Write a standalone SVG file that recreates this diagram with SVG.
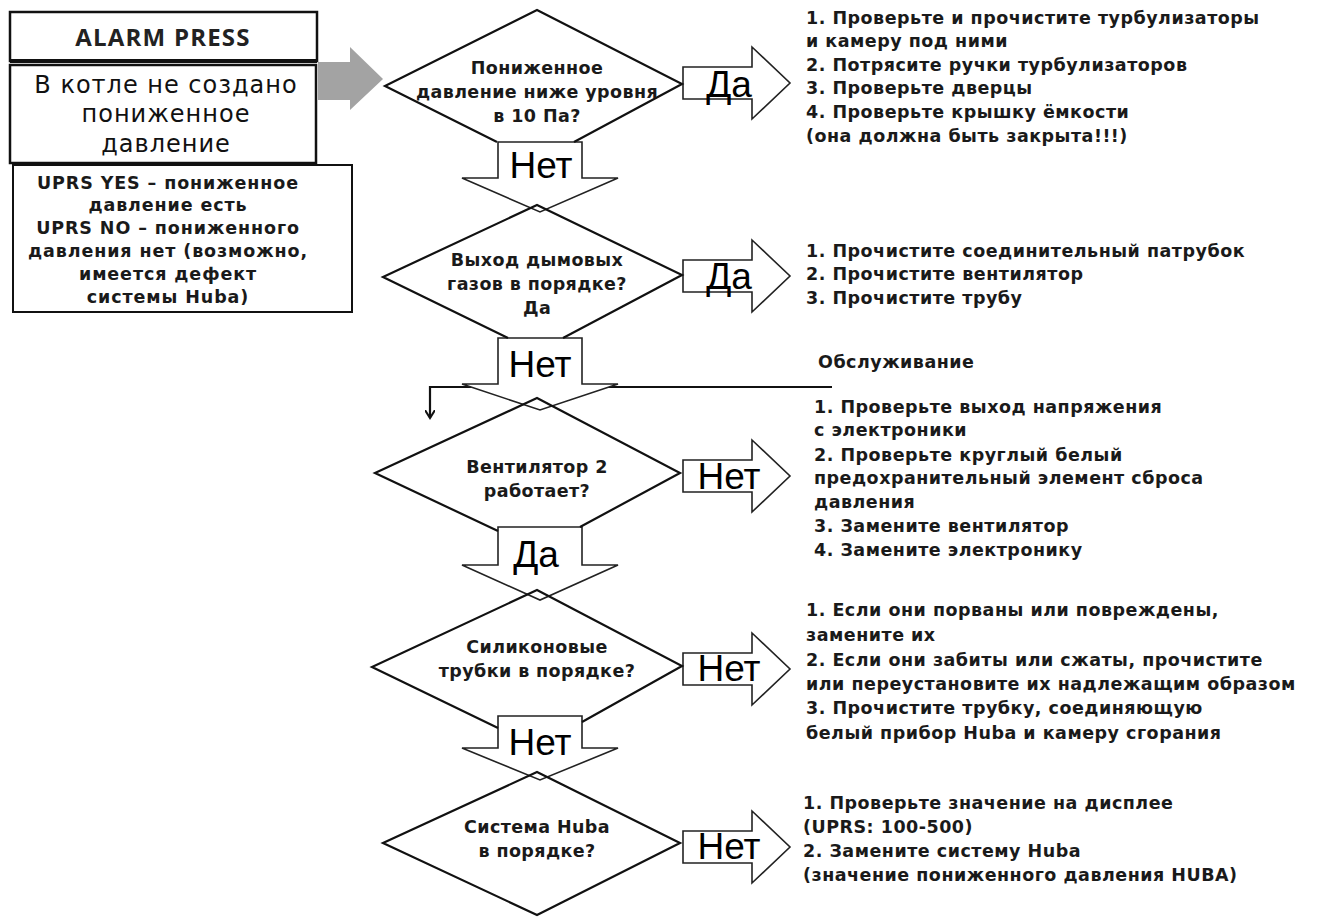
<svg xmlns="http://www.w3.org/2000/svg" width="1318" height="918" viewBox="0 0 1318 918">
<style>
.bg{fill:#fff}
.box{fill:#fff;stroke:#111;stroke-width:2.5}
.dia{fill:none;stroke:#111;stroke-width:2.2;stroke-linejoin:miter}
.blk{fill:#fff;stroke:#222;stroke-width:1.6}
.gray{fill:#a3a3a3}
.line{fill:none;stroke:#111;stroke-width:2.2}
.t{font-family:"DejaVu Sans",sans-serif;font-weight:bold;font-size:17.5px;letter-spacing:0.5px;fill:#1a1a1a}
.dt{font-family:"DejaVu Sans",sans-serif;font-weight:bold;font-size:17.5px;letter-spacing:0.4px;fill:#1a1a1a;text-anchor:middle}
.lt{font-family:"DejaVu Sans",sans-serif;font-weight:bold;font-size:17.5px;letter-spacing:0.9px;fill:#1a1a1a;text-anchor:middle}
.big{font-family:"DejaVu Sans",sans-serif;font-size:24px;letter-spacing:1px;fill:#111;text-anchor:middle}
.hd{font-family:"Open Sans",sans-serif;font-weight:bold;font-size:24px;fill:#222;text-anchor:middle;letter-spacing:1.2px}
.lab{font-family:"Liberation Sans",sans-serif;font-size:37px;fill:#000;text-anchor:middle}
</style>
<defs>
<marker id="ah" markerWidth="10" markerHeight="10" refX="8" refY="5" orient="auto" markerUnits="userSpaceOnUse" viewBox="0 0 10 10">
<path d="M0,0 L8,5 L0,10" fill="none" stroke="#111" stroke-width="2"/>
</marker>
</defs>
<rect class="bg" x="0" y="0" width="1318" height="918"/>

<g id="connectors">
<polygon class="gray" points="318,62 350,62 350,47 383,79 350,110 350,100 318,100"/>
<path class="blk" d="M683,67 H752 V47 L790,83 L752,119 V99 H683 Z"/>
<path class="blk" d="M683,260 H752 V240 L790,276 L752,312 V292 H683 Z"/>
<path class="blk" d="M683,460 H752 V440 L790,476 L752,512 V492 H683 Z"/>
<path class="blk" d="M683,653 H752 V633 L790,669 L752,705 V685 H683 Z"/>
<path class="blk" d="M683,831 H752 V811 L790,847 L752,883 V863 H683 Z"/>
<path class="line" d="M832,387 H430 V418" marker-end="url(#ah)"/>
<path class="blk" d="M498,142 H582 V178 H618 L540,212 L462,178 H498 Z"/>
<path class="blk" d="M498,338 H582 V384 H618 L540,410 L462,384 H498 Z"/>
<path class="blk" d="M498,527 H582 V565 H618 L540,600 L462,565 H498 Z"/>
<path class="blk" d="M498,716 H582 V748 H618 L540,780 L462,748 H498 Z"/>
<text class="lab" x="729" y="97">Да</text>
<text class="lab" x="729" y="289">Да</text>
<text class="lab" x="729" y="489">Нет</text>
<text class="lab" x="729" y="681">Нет</text>
<text class="lab" x="729" y="859">Нет</text>
<text class="lab" x="541" y="178">Нет</text>
<text class="lab" x="540" y="377">Нет</text>
<text class="lab" x="536" y="567">Да</text>
<text class="lab" x="540" y="755">Нет</text>
</g>

<g id="alarm">
<rect class="box" x="10" y="12" width="307" height="49"/>
<line x1="10" y1="61" x2="317" y2="61" stroke="#111" stroke-width="4"/>
<text class="hd" x="163" y="46">ALARM PRESS</text>
</g>
<g id="fault">
<rect class="box" x="10" y="65" width="306" height="98"/>
<text class="big" x="166" y="93">В котле не создано</text>
<text class="big" x="166" y="122">пониженное</text>
<text class="big" x="166" y="152">давление</text>
</g>
<g id="legend">
<rect class="box" x="13" y="165" width="339" height="147" style="stroke-width:2"/>
<text class="lt" x="168" y="189">UPRS YES – пониженное</text>
<text class="lt" x="168" y="211">давление есть</text>
<text class="lt" x="168" y="234">UPRS NO – пониженного</text>
<text class="lt" x="168" y="257">давления нет (возможно,</text>
<text class="lt" x="168" y="280">имеется дефект</text>
<text class="lt" x="168" y="303">системы Huba)</text>
</g>

<g id="q1">
<path class="dia" d="M497,142 L385,86 L537,10 L682,84 L574,142"/>
<text class="dt" x="537" y="74">Пониженное</text>
<text class="dt" x="537" y="98">давление ниже уровня</text>
<text class="dt" x="537" y="122">в 10 Па?</text>
</g>
<g id="q2">
<path class="dia" d="M508,338 L383,277 L537,205 L682,275 L563,338"/>
<text class="dt" x="537" y="266">Выход дымовых</text>
<text class="dt" x="537" y="290">газов в порядке?</text>
<text class="dt" x="537" y="314">Да</text>
</g>
<g id="q3">
<path class="dia" d="M498,531 L375,473 L537,398 L680,473 L580,527"/>
<text class="dt" x="537" y="473">Вентилятор 2</text>
<text class="dt" x="537" y="497">работает?</text>
</g>
<g id="q4">
<path class="dia" d="M498,728 L372,667 L537,590 L682,666 L582,722"/>
<text class="dt" x="537" y="653">Силиконовые</text>
<text class="dt" x="537" y="677">трубки в порядке?</text>
</g>
<g id="q5">
<path class="dia" d="M383,843 L537,772 L680,843 L537,915 Z"/>
<text class="dt" x="537" y="833">Система Huba</text>
<text class="dt" x="537" y="857">в порядке?</text>
</g>

<g id="a1">
<text class="t" x="806" y="24">1. Проверьте и прочистите турбулизаторы</text>
<text class="t" x="806" y="47">и камеру под ними</text>
<text class="t" x="806" y="71">2. Потрясите ручки турбулизаторов</text>
<text class="t" x="806" y="94">3. Проверьте дверцы</text>
<text class="t" x="806" y="118">4. Проверьте крышку ёмкости</text>
<text class="t" x="806" y="142">(она должна быть закрыта!!!)</text>
</g>
<g id="a2">
<text class="t" x="806" y="257">1. Прочистите соединительный патрубок</text>
<text class="t" x="806" y="280">2. Прочистите вентилятор</text>
<text class="t" x="806" y="304">3. Прочистите трубу</text>
</g>
<g id="service">
<text class="t" x="818" y="368">Обслуживание</text>
</g>
<g id="a3">
<text class="t" x="814" y="413">1. Проверьте выход напряжения</text>
<text class="t" x="814" y="436">с электроники</text>
<text class="t" x="814" y="461">2. Проверьте круглый белый</text>
<text class="t" x="814" y="484">предохранительный элемент сброса</text>
<text class="t" x="814" y="508">давления</text>
<text class="t" x="814" y="532">3. Замените вентилятор</text>
<text class="t" x="814" y="556">4. Замените электронику</text>
</g>
<g id="a4">
<text class="t" x="806" y="616">1. Если они порваны или повреждены,</text>
<text class="t" x="806" y="641">замените их</text>
<text class="t" x="806" y="666">2. Если они забиты или сжаты, прочистите</text>
<text class="t" x="806" y="690">или переустановите их надлежащим образом</text>
<text class="t" x="806" y="714">3. Прочистите трубку, соединяющую</text>
<text class="t" x="806" y="739">белый прибор Huba и камеру сгорания</text>
</g>
<g id="a5">
<text class="t" x="803" y="809">1. Проверьте значение на дисплее</text>
<text class="t" x="803" y="833">(UPRS: 100-500)</text>
<text class="t" x="803" y="857">2. Замените систему Huba</text>
<text class="t" x="803" y="881">(значение пониженного давления HUBA)</text>
</g>
</svg>
